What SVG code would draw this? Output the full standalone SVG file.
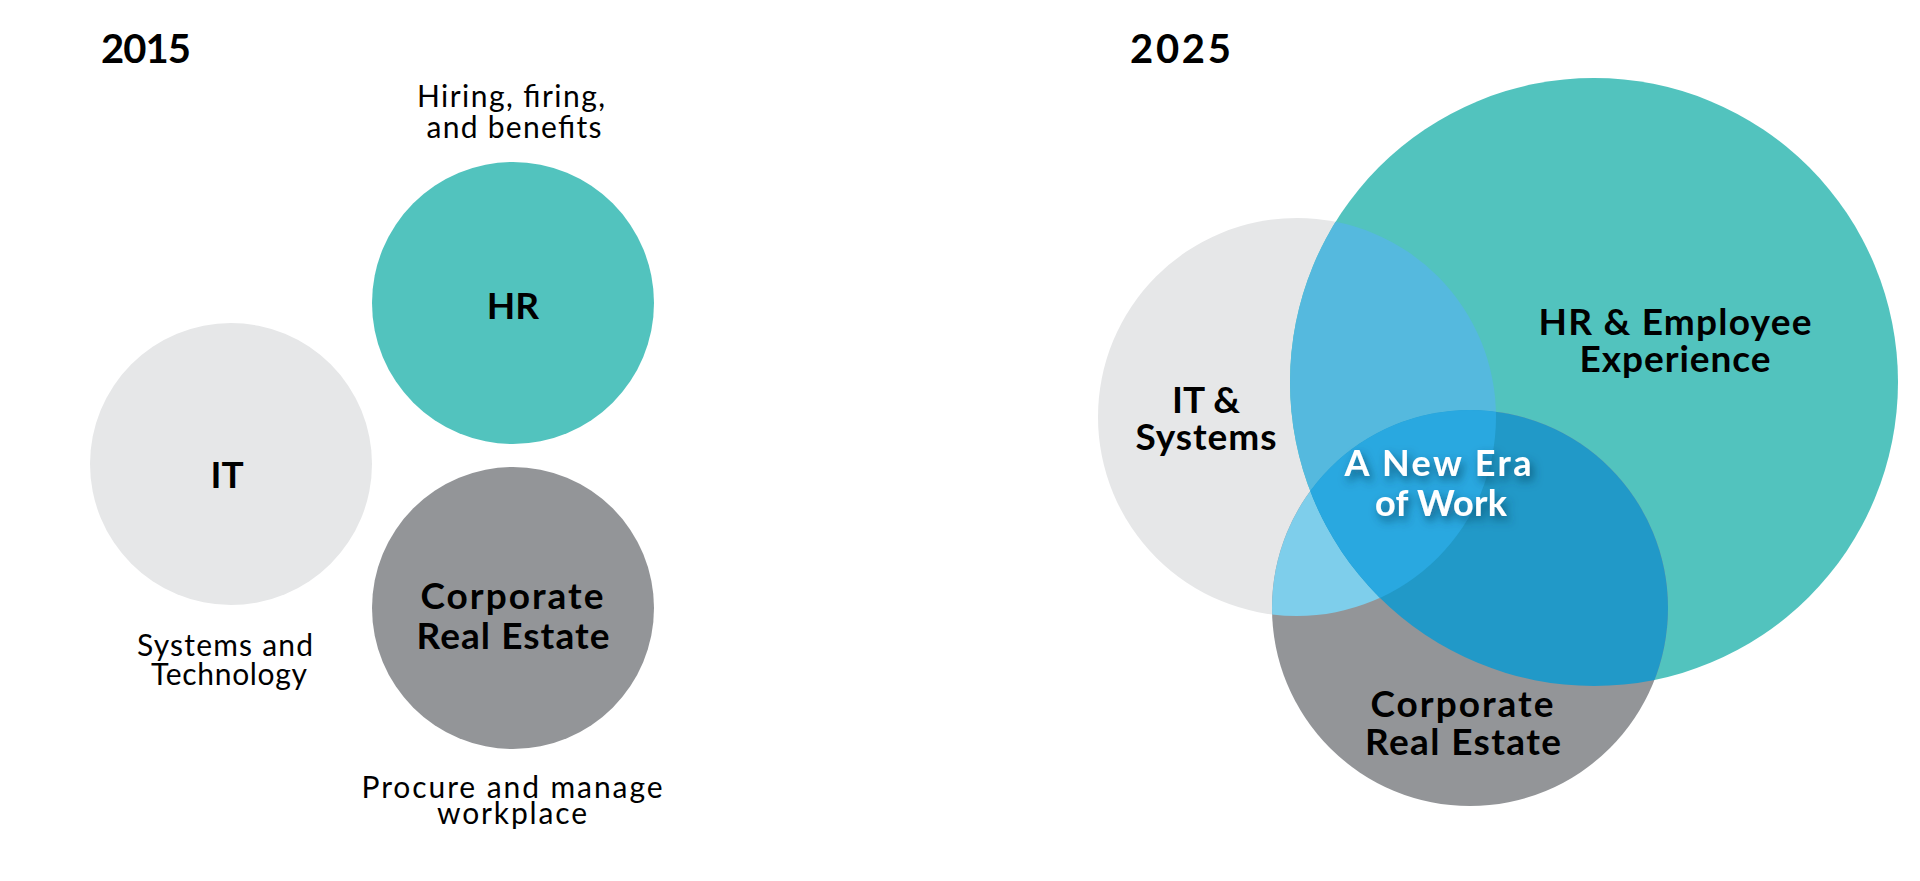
<svg xmlns="http://www.w3.org/2000/svg" width="1920" height="881" viewBox="0 0 1920 881">
<style>
.title{font-family:Lato,"Liberation Sans",sans-serif;font-weight:700;font-size:40px;fill:#000}
.lbl{font-family:Lato,"Liberation Sans",sans-serif;font-weight:700;font-size:37px;fill:#000;text-anchor:middle}
.note{font-family:Lato,"Liberation Sans",sans-serif;font-weight:400;font-size:30px;fill:#000;text-anchor:middle}
.center{font-family:Lato,"Liberation Sans",sans-serif;font-weight:700;font-size:36px;fill:#fff;text-anchor:middle}
</style>
<defs>
<clipPath id="cIT"><circle cx="1297" cy="417" r="199"/></clipPath>
<clipPath id="cHR"><circle cx="1594" cy="382" r="304"/></clipPath>
<clipPath id="cCRE"><circle cx="1470" cy="608" r="198"/></clipPath>
<filter id="shadow" x="-20%" y="-30%" width="140%" height="160%">
<feDropShadow dx="3" dy="5" stdDeviation="5" flood-color="#0b3a55" flood-opacity="0.7"/>
</filter>
</defs>
<rect width="1920" height="881" fill="#fff"/>

<text class="title" x="101" y="63" textLength="90" lengthAdjust="spacing">2015</text>
<text class="title" x="1130" y="63" textLength="101" lengthAdjust="spacing">2025</text>

<g id="hr2015">
<circle cx="513" cy="303" r="141" fill="#52C3BE"/>
<text class="lbl" x="513" y="319">HR</text>
<text class="note" x="511" y="107" textLength="188" lengthAdjust="spacing">Hiring, firing,</text>
<text class="note" x="514" y="138" textLength="175" lengthAdjust="spacing">and benefits</text>
</g>
<g id="it2015">
<circle cx="231" cy="464" r="141" fill="#E6E7E8"/>
<text class="lbl" x="227" y="488">IT</text>
<text class="note" x="225" y="656" textLength="176" lengthAdjust="spacing">Systems and</text>
<text class="note" x="229" y="685" textLength="156" lengthAdjust="spacing">Technology</text>
</g>
<g id="cre2015">
<circle cx="513" cy="608" r="141" fill="#939598"/>
<text class="lbl" x="512" y="609" textLength="183" lengthAdjust="spacing">Corporate</text>
<text class="lbl" x="513" y="649" textLength="193" lengthAdjust="spacing">Real Estate</text>
<text class="note" x="512" y="798" textLength="301" lengthAdjust="spacing">Procure and manage</text>
<text class="note" x="512" y="824" textLength="150" lengthAdjust="spacing">workplace</text>
</g>

<g id="it2025">
<circle cx="1297" cy="417" r="199" fill="#E6E7E8"/>
</g>
<g id="hr2025">
<circle cx="1594" cy="382" r="304" fill="#52C3BE"/>
</g>
<g id="cre2025">
<circle cx="1470" cy="608" r="198" fill="#939598"/>
</g>
<g id="overlaps">
<circle cx="1297" cy="417" r="199" fill="#55B9DE" clip-path="url(#cHR)"/>
<circle cx="1297" cy="417" r="199" fill="#7ECEEB" clip-path="url(#cCRE)"/>
<circle cx="1594" cy="382" r="304" fill="#2199C8" clip-path="url(#cCRE)"/>
<g clip-path="url(#cCRE)"><circle cx="1297" cy="417" r="199" fill="#29A8E0" clip-path="url(#cHR)"/></g>
</g>
<g id="labels2025">
<text class="lbl" x="1206" y="413">IT &amp;</text>
<text class="lbl" x="1206" y="450" textLength="141" lengthAdjust="spacing">Systems</text>
<text class="lbl" x="1675" y="335" textLength="273" lengthAdjust="spacing">HR &amp; Employee</text>
<text class="lbl" x="1675" y="372" textLength="191" lengthAdjust="spacing">Experience</text>
<text class="lbl" x="1462" y="717" textLength="183" lengthAdjust="spacing">Corporate</text>
<text class="lbl" x="1463" y="755" textLength="196" lengthAdjust="spacing">Real Estate</text>
</g>
<g id="neweraofwork" filter="url(#shadow)">
<text class="center" x="1438" y="476" textLength="187" lengthAdjust="spacing">A New Era</text>
<text class="center" x="1441" y="516" textLength="132" lengthAdjust="spacing">of Work</text>
</g>
</svg>
